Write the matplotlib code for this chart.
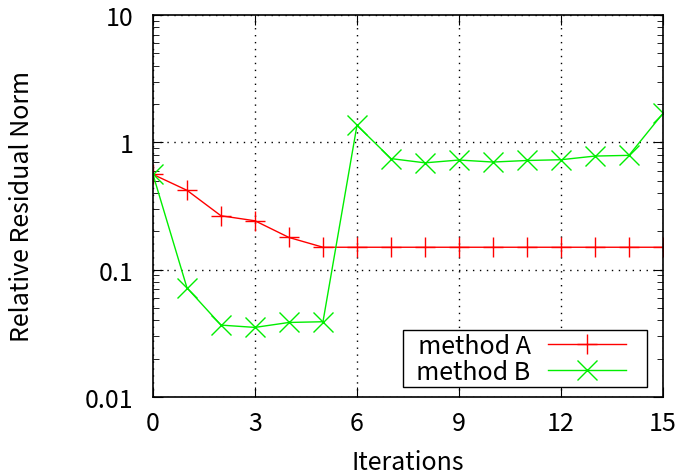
import matplotlib
matplotlib.use("Agg")
import matplotlib.pyplot as plt
from matplotlib.ticker import FixedLocator, LogLocator, NullFormatter

plt.rcParams['font.family'] = ['Noto Sans CJK JP', 'DejaVu Sans']

iters = list(range(16))
method_a = [0.56, 0.42, 0.265, 0.242, 0.179, 0.15, 0.15, 0.15, 0.15, 0.15,
            0.15, 0.15, 0.15, 0.15, 0.15, 0.15]
method_b = [0.56, 0.072, 0.0367, 0.0352, 0.0385, 0.039, 1.36, 0.745, 0.69, 0.726,
            0.70, 0.72, 0.73, 0.78, 0.79, 1.69]
names = ["method A", "method B"]
xticks = [0, 3, 6, 9, 12, 15]
yticks = [0.01, 0.1, 1, 10]
ytick_labels = ["0.01", "0.1", "1", "10"]

fig = plt.figure(figsize=(6.82, 4.77), dpi=100)
ax = fig.add_axes([0.2243, 0.1656, 0.9721 - 0.2243, 0.9665 - 0.1656])

# leading spaces pad the text away from the legend frame like gnuplot does
ax.plot(iters, method_a, color="red", lw=1, marker="+", ms=15, mew=1, label="  " + names[0])
ax.plot(iters, method_b, color="#00ee00", lw=1, marker="x", ms=15, mew=1, label="  " + names[1])

ax.set_yscale("log")
ax.set_xlim(0, 15)
ax.set_ylim(0.01, 10)
ax.xaxis.set_major_locator(FixedLocator(xticks))
ax.yaxis.set_major_locator(FixedLocator(yticks))
ax.set_yticklabels(ytick_labels)
ax.yaxis.set_minor_locator(LogLocator(base=10, subs=range(2, 10)))
ax.yaxis.set_minor_formatter(NullFormatter())
ax.tick_params(which="both", direction="in", top=True, right=True, labelsize=18)
ax.tick_params(which="major", length=7)
ax.tick_params(axis="x", which="major", pad=9)
ax.tick_params(axis="y", which="major", pad=14)
ax.tick_params(which="minor", length=4)
ax.grid(True, which="major", color="black", linestyle=(0, (1, 4)), lw=1)
for s in ax.spines.values():
    s.set_linewidth(1.2)

ax.set_xlabel("Iterations", fontsize=18, labelpad=10)
ax.set_ylabel("Relative Residual Norm", fontsize=18, labelpad=36)

leg = ax.legend(loc="lower left", bbox_to_anchor=(0.490, 0.026, 0.478, 0.139),
                mode="expand", borderaxespad=0,
                markerfirst=False, fontsize=18, fancybox=False,
                framealpha=1, edgecolor="black",
                handlelength=3.1, labelspacing=0.0, borderpad=0.1,
                handletextpad=0.7)
leg.get_frame().set_linewidth(1)

fig.savefig("out.png", dpi=100)
